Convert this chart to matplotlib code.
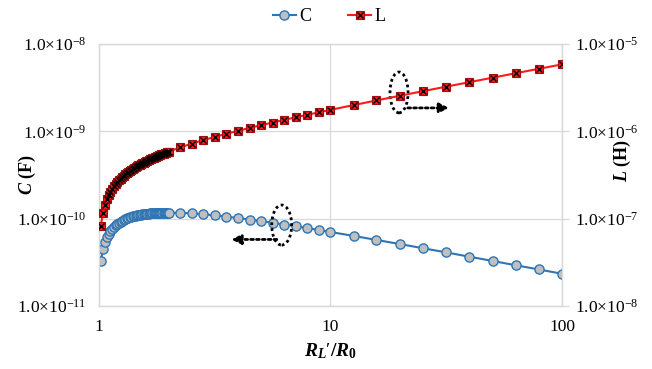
import math
import matplotlib
matplotlib.use("Agg")
import matplotlib.pyplot as plt
from matplotlib.lines import Line2D
from matplotlib.patches import Ellipse
from matplotlib.ticker import FixedLocator, FuncFormatter, NullLocator

plt.rcParams["font.family"] = ["Liberation Serif", "DejaVu Serif"]
plt.rcParams["mathtext.fontset"] = "custom"
plt.rcParams["mathtext.rm"] = "Liberation Serif"
plt.rcParams["mathtext.it"] = "Liberation Serif:italic:bold"
plt.rcParams["mathtext.bf"] = "Liberation Serif:bold"

# Load-to-source resistance ratio R_L'/R_0
ratio = [1.02, 1.04, 1.06, 1.08, 1.10, 1.12, 1.14, 1.16, 1.18, 1.20,
         1.22, 1.24, 1.26, 1.28, 1.30, 1.32, 1.34, 1.36, 1.38, 1.40,
         1.42, 1.44, 1.46, 1.48, 1.50, 1.52, 1.54, 1.56, 1.58, 1.60,
         1.62, 1.64, 1.66, 1.68, 1.70, 1.72, 1.74, 1.76, 1.78, 1.80,
         1.82, 1.84, 1.86, 1.88, 1.90, 1.92, 1.94, 1.96, 1.98, 2.00,
         2.24, 2.51, 2.82, 3.16, 3.55, 3.98, 4.47, 5.01, 5.62, 6.31,
         7.08, 7.94, 8.91, 10.0, 12.6, 15.8, 20.0, 25.1, 31.6, 39.8,
         50.1, 63.1, 79.4, 100.0]

# Matching capacitance C (F)
cap_F = [3.25e-11, 4.51e-11, 5.42e-11, 6.15e-11, 6.75e-11, 7.26e-11, 7.70e-11, 8.09e-11, 8.44e-11, 8.75e-11,
         9.02e-11, 9.27e-11, 9.50e-11, 9.70e-11, 9.89e-11, 1.006e-10, 1.021e-10, 1.035e-10, 1.048e-10, 1.060e-10,
         1.071e-10, 1.081e-10, 1.090e-10, 1.099e-10, 1.106e-10, 1.113e-10, 1.120e-10, 1.126e-10, 1.131e-10, 1.136e-10,
         1.141e-10, 1.145e-10, 1.149e-10, 1.152e-10, 1.155e-10, 1.158e-10, 1.160e-10, 1.163e-10, 1.165e-10, 1.166e-10,
         1.168e-10, 1.169e-10, 1.170e-10, 1.171e-10, 1.172e-10, 1.173e-10, 1.173e-10, 1.173e-10, 1.173e-10, 1.174e-10,
         1.167e-10, 1.149e-10, 1.123e-10, 1.092e-10, 1.056e-10, 1.018e-10, 9.78e-11, 9.38e-11, 8.98e-11, 8.57e-11,
         8.17e-11, 7.79e-11, 7.41e-11, 7.04e-11, 6.34e-11, 5.71e-11, 5.11e-11, 4.59e-11, 4.11e-11, 3.67e-11,
         3.28e-11, 2.93e-11, 2.62e-11, 2.34e-11]

# Matching inductance L (H)
ind_H = [8.30e-8, 1.174e-7, 1.438e-7, 1.660e-7, 1.856e-7, 2.033e-7, 2.197e-7, 2.348e-7, 2.491e-7, 2.625e-7,
         2.753e-7, 2.876e-7, 2.993e-7, 3.106e-7, 3.215e-7, 3.321e-7, 3.423e-7, 3.522e-7, 3.618e-7, 3.713e-7,
         3.804e-7, 3.894e-7, 3.981e-7, 4.067e-7, 4.151e-7, 4.233e-7, 4.313e-7, 4.393e-7, 4.471e-7, 4.547e-7,
         4.622e-7, 4.696e-7, 4.769e-7, 4.840e-7, 4.911e-7, 4.981e-7, 5.049e-7, 5.117e-7, 5.184e-7, 5.250e-7,
         5.315e-7, 5.380e-7, 5.444e-7, 5.507e-7, 5.569e-7, 5.631e-7, 5.691e-7, 5.751e-7, 5.811e-7, 5.870e-7,
         6.537e-7, 7.213e-7, 7.919e-7, 8.627e-7, 9.374e-7, 1.013e-6, 1.093e-6, 1.175e-6, 1.262e-6, 1.353e-6,
         1.447e-6, 1.546e-6, 1.651e-6, 1.761e-6, 1.999e-6, 2.258e-6, 2.559e-6, 2.882e-6, 3.247e-6, 3.656e-6,
         4.113e-6, 4.626e-6, 5.198e-6, 5.841e-6]

x_ticks = [1, 10, 100]
x_tick_labels = ["1", "10", "100"]
c_ticks = [1e-11, 1e-10, 1e-9, 1e-8]
l_ticks = [1e-8, 1e-7, 1e-6, 1e-5]

blue = "#2E75B6"
grey_fill = "#BFBFBF"
red = "#FF1A1A"
grid_c = "#D9D9D9"


def sci_label(v, _pos=None):
    e = int(round(math.log10(v)))
    return "1.0\u00d710$^{%d}$" % e


def x_label(v, _pos=None):
    r = int(round(v))
    return x_tick_labels[x_ticks.index(r)] if r in x_ticks else ""


fig = plt.figure(figsize=(6.52, 3.69), dpi=100)
ax = fig.add_axes([0.1518, 0.1707, 0.7102, 0.7101])
ax2 = ax.twinx()

ax.set_xscale("log")
ax.set_yscale("log")
ax2.set_yscale("log")
ax.set_xlim(1, 100)
ax.set_ylim(1e-11, 1e-8)
ax2.set_ylim(1e-8, 1e-5)

ax.xaxis.set_major_locator(FixedLocator(x_ticks))
ax.xaxis.set_major_formatter(FuncFormatter(x_label))
ax.xaxis.set_minor_locator(NullLocator())
ax.yaxis.set_major_locator(FixedLocator(c_ticks))
ax.yaxis.set_major_formatter(FuncFormatter(sci_label))
ax.yaxis.set_minor_locator(NullLocator())
ax2.yaxis.set_major_locator(FixedLocator(l_ticks))
ax2.yaxis.set_major_formatter(FuncFormatter(sci_label))
ax2.yaxis.set_minor_locator(NullLocator())

ax.grid(True, which="major", color=grid_c, lw=0.9)
ax.set_axisbelow(True)
for a in (ax, ax2):
    for s in a.spines.values():
        s.set_color(grid_c)
        s.set_linewidth(0.9)

ax.tick_params(axis="x", length=0, pad=9, labelsize=12.5)
ax.tick_params(axis="y", length=0, pad=9, labelsize=12.5)
ax2.tick_params(axis="y", length=5, width=0.9, color=grid_c, pad=4, labelsize=12.5)

ax.plot(ratio, cap_F, color=blue, lw=1.5, marker="o", ms=6.6,
        mfc=grey_fill, mec=blue, mew=1.0, zorder=3)
ax2.plot(ratio, ind_H, color=red, lw=1.5, marker="s", ms=5.4,
         mfc=red, mec="#A01010", mew=0.8, zorder=3)
ax2.plot(ratio, ind_H, ls="none", marker="x", ms=4.3, mec="black", mew=1.0, zorder=4)

# Dotted ellipses and arrows pointing to each curve's axis
for (cx, cy, w, h) in [(0.648, 0.815, 0.039, 0.156), (0.3946, 0.309, 0.043, 0.153)]:
    ax.add_patch(Ellipse((cx, cy), w, h, transform=ax.transAxes, fill=False,
                         ec="black", lw=2.0, ls=(0, (1, 1.1)), zorder=5))
ax.annotate("", xy=(0.756, 0.756), xytext=(0.667, 0.756), xycoords="axes fraction",
            arrowprops=dict(arrowstyle="-|>", color="black", lw=2.0, ls=(0, (1, 1.1)),
                            mutation_scale=14, shrinkA=0, shrinkB=0), zorder=5)
ax.annotate("", xy=(0.286, 0.254), xytext=(0.384, 0.254), xycoords="axes fraction",
            arrowprops=dict(arrowstyle="-|>", color="black", lw=2.0, ls=(0, (1, 1.1)),
                            mutation_scale=14, shrinkA=0, shrinkB=0), zorder=5)

ax.set_xlabel(r"$R_L\prime\mathbf{/}R_\mathbf{0}$", fontsize=14)
ax.xaxis.set_label_coords(0.5, -0.135)
ax.set_ylabel(r"$C$ (F)", fontsize=13, fontweight="bold")
ax.yaxis.set_label_coords(-0.132, 0.5)
ax2.set_ylabel(r"$L$ (H)", fontsize=13, fontweight="bold", rotation=90)
ax2.yaxis.set_label_coords(1.108, 0.557)

h_c = Line2D([], [], color=blue, lw=1.5, marker="o", ms=6.6, mfc=grey_fill, mec=blue, mew=1.0)
h_l1 = Line2D([], [], color=red, lw=1.5, marker="s", ms=5.4, mfc=red, mec="#A01010", mew=0.8)
h_l2 = Line2D([], [], ls="none", marker="x", ms=4.3, mec="black", mew=1.0)
fig.legend([h_c, (h_l1, h_l2)], ["C", "L"], loc="center", bbox_to_anchor=(0.505, 0.955),
           ncol=2, frameon=False, fontsize=13, handlelength=1.3, handletextpad=0.2,
           columnspacing=2.0)

fig.savefig("out.png", dpi=100)
